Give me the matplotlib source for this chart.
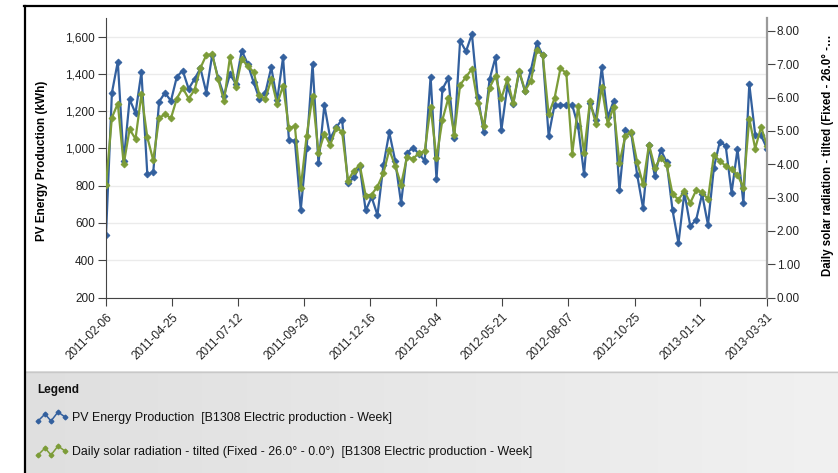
import numpy as np
import matplotlib.pyplot as plt
from matplotlib.lines import Line2D
from matplotlib.ticker import FuncFormatter

plt.rcParams['font.family'] = ['Liberation Sans', 'DejaVu Sans']

# weekly periods, 2011-02-06 .. 2013-03-31
weeks = np.arange('2011-02-06', '2013-04-01', 7, dtype='datetime64[D]')

# PV Energy Production (kWh) - left axis
pv_kwh = [536, 1298, 1466, 931, 1264, 1189, 1409, 862, 871, 1251,
          1299, 1255, 1384, 1418, 1320, 1372, 1430, 1300, 1503, 1378,
          1284, 1398, 1348, 1525, 1455, 1356, 1266, 1298, 1435, 1258,
          1489, 1044, 1042, 671, 1005, 1453, 920, 1233, 1054, 1113,
          1155, 812, 845, 904, 667, 739, 642, 909, 1086, 934,
          706, 976, 1004, 972, 934, 1385, 835, 1318, 1378, 1058,
          1578, 1521, 1614, 1278, 1090, 1372, 1489, 1100, 1334, 1238,
          1412, 1306, 1421, 1565, 1500, 1068, 1233, 1233, 1233, 1233,
          1118, 862, 1244, 1152, 1435, 1167, 1253, 776, 1099, 1081,
          858, 680, 1017, 851, 992, 927, 667, 492, 763, 583,
          617, 755, 590, 897, 1036, 1014, 762, 997, 708, 1345,
          1074, 1070, 999]

# Daily solar radiation, tilted plane - right axis
radiation = [3.38, 5.40, 5.82, 4.00, 5.05, 4.76, 6.10, 4.81, 4.12, 5.38,
             5.51, 5.38, 5.97, 6.29, 5.97, 6.23, 6.89, 7.28, 7.30, 6.55,
             5.90, 7.22, 6.31, 7.15, 6.96, 6.77, 6.07, 5.96, 6.55, 5.81,
             6.35, 5.09, 5.14, 3.30, 4.86, 6.06, 4.35, 4.91, 4.58, 5.09,
             4.98, 3.51, 3.81, 3.97, 3.06, 3.09, 3.33, 3.73, 4.43, 3.95,
             3.39, 4.21, 4.16, 4.33, 4.39, 5.72, 4.18, 5.33, 5.98, 4.89,
             6.38, 6.62, 6.86, 5.83, 5.14, 6.30, 6.65, 5.98, 6.55, 5.83,
             6.81, 6.21, 6.50, 7.43, 7.27, 5.50, 5.98, 6.88, 6.73, 4.32,
             5.75, 4.34, 5.89, 5.22, 6.32, 5.22, 5.71, 4.04, 4.85, 4.97,
             4.06, 3.40, 4.59, 3.90, 4.20, 3.98, 3.10, 2.94, 3.19, 2.84,
             3.22, 3.16, 2.95, 4.28, 4.10, 3.95, 3.86, 3.68, 3.30, 5.37,
             4.47, 5.12, 4.56]

tick_dates = ['2011-02-06', '2011-04-25', '2011-07-12', '2011-09-29',
              '2011-12-16', '2012-03-04', '2012-05-21', '2012-08-07',
              '2012-10-25', '2013-01-11', '2013-03-31']

pv_label = 'PV Energy Production  [B1308 Electric production - Week]'
rad_label = ('Daily solar radiation - tilted (Fixed - 26.0\u00b0 - 0.0\u00b0)  '
             '[B1308 Electric production - Week]')

blue = '#33609e'
green = '#7c9c38'

W, H = 838, 473
fig = plt.figure(figsize=(W / 100, H / 100), dpi=100)

# plot area in pixels: x 106..767, y 18..297.5
ax = fig.add_axes([106 / W, 1 - 297.5 / H, 661 / W, 279.5 / H])
ax2 = ax.twinx()

ax.plot(weeks, pv_kwh, color=blue, lw=1.6, marker='D', ms=3.5,
        markeredgewidth=0.6)
ax2.plot(weeks, radiation, color=green, lw=1.6, marker='D', ms=3.5,
         markeredgewidth=0.6)

ax.set_xlim(weeks[0], weeks[-1])
ax.set_ylim(200, 1700)
ax2.set_ylim(0, 8.39)

ax.set_yticks(np.arange(200, 1700, 200))
ax.yaxis.set_major_formatter(FuncFormatter(lambda v, p: f'{v:,.0f}'))
ax2.set_yticks(np.arange(0, 9, 1))
ax2.yaxis.set_major_formatter(FuncFormatter(lambda v, p: f'{v:.2f}'))

ax.set_xticks(np.array(tick_dates, dtype='datetime64[D]'))
ax.set_xticklabels(tick_dates, rotation=45, ha='right', va='top',
                   rotation_mode='anchor')

ax.yaxis.grid(True, color='#ebebeb', lw=1)
ax.set_axisbelow(True)

for s in ['top', 'right']:
    ax.spines[s].set_visible(False)
for s in ['top', 'left', 'bottom']:
    ax2.spines[s].set_visible(False)
ax.spines['left'].set_color('#444444')
ax.spines['bottom'].set_color('#444444')
ax2.spines['right'].set_color('#9a9a9a')
ax2.spines['right'].set_linewidth(1.6)

ax.tick_params(axis='y', length=6, width=0.8, color='#444444', pad=2,
               labelsize=8.5, labelcolor='#222222')
ax.tick_params(axis='x', length=6, width=0.8, color='#444444', pad=4,
               labelsize=8.5, labelcolor='#222222')
ax2.tick_params(axis='y', length=6, width=0.8, color='#444444', pad=1,
                labelsize=8.5, labelcolor='#222222')

ax.set_ylabel('PV Energy Production (kWh)', fontweight='bold', fontsize=8.5)
ax.yaxis.set_label_coords(-0.088, 0.49)
ax2.set_ylabel('Daily solar radiation - tilted (Fixed - 26.0\u00b0 -\u2026',
               fontweight='bold', fontsize=8.3, rotation=90)
ax2.yaxis.set_label_coords(1.083, 0.51)

# legend panel along the bottom, drawn in pixel coordinates
lg = fig.add_axes([24 / W, 0, 1 - 24 / W, (H - 371) / H])
grad = np.linspace(0.875, 0.945, 256)
lg.imshow(np.dstack([grad, grad, grad]), extent=(24, W, H, 371),
          aspect='auto')
lg.set_xlim(24, W)
lg.set_ylim(H, 371)
lg.axhline(371.5, color='#c8c8c8', lw=1)
lg.axis('off')

lg.text(37, 390, 'Legend', fontweight='bold', fontsize=8.5, va='center',
        color='#111111')
for ypos, col, label in [(418, blue, pv_label), (452, green, rad_label)]:
    icon_x = [38, 45, 51, 58, 65]
    icon_y = [ypos + 3, ypos - 4, ypos + 3, ypos - 6, ypos - 1]
    lg.plot(icon_x, icon_y, color=col, lw=1.1, marker='D', ms=2.4)
    lg.text(72, ypos, label, fontsize=8.9, va='center', color='#111111')

# outer frame lines (left and top)
fig.add_artist(Line2D([24.5 / W, 24.5 / W], [0, 1 - 6 / H], color='black',
                      lw=1.6, transform=fig.transFigure))
fig.add_artist(Line2D([24 / W, 1], [1 - 6 / H, 1 - 6 / H], color='black',
                      lw=1.6, transform=fig.transFigure))

fig.savefig('out.png', dpi=100)
